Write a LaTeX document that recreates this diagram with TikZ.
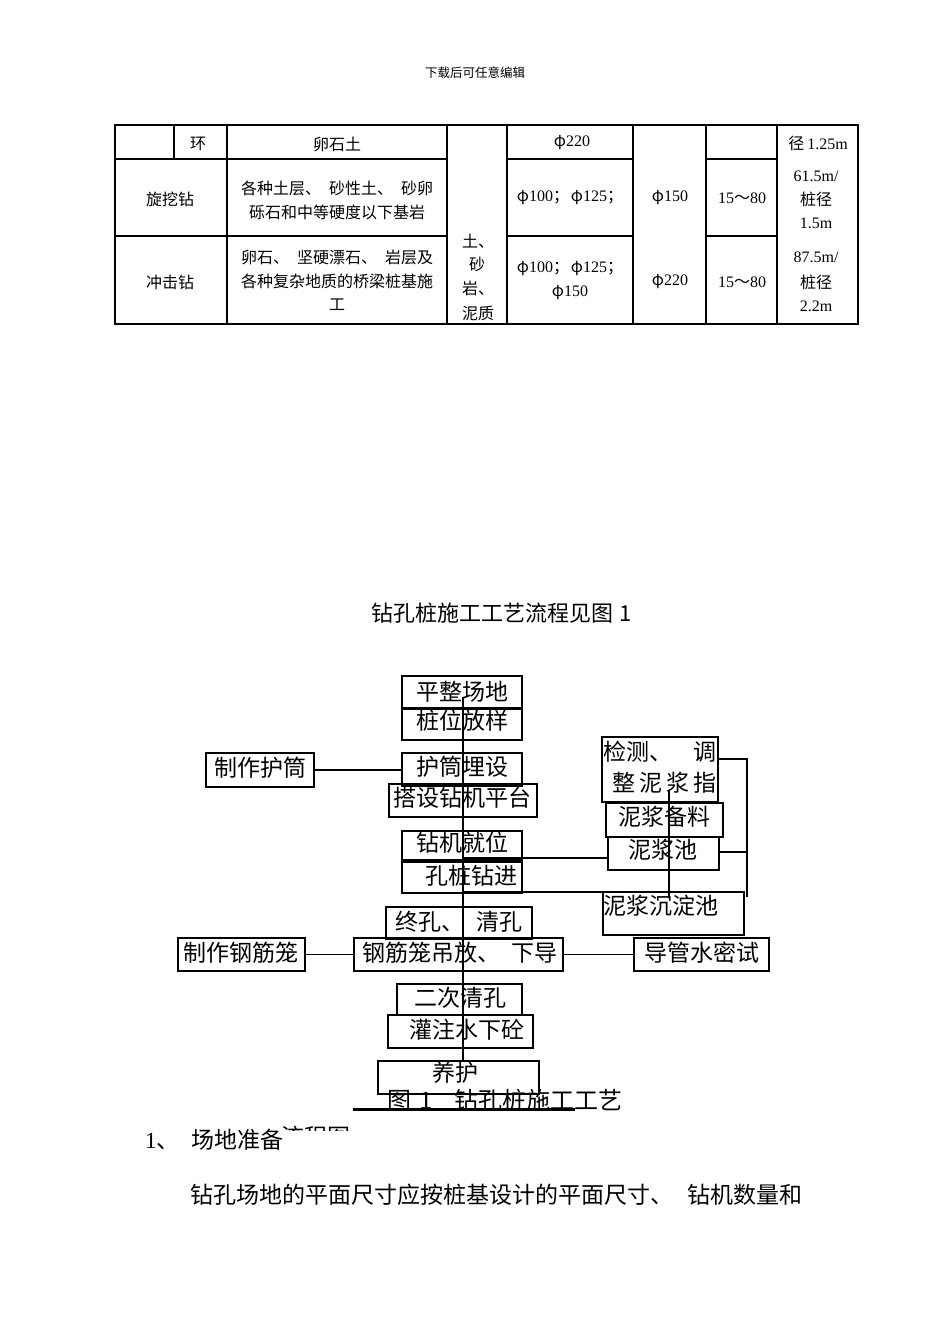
\documentclass[tikz,border=0pt]{standalone}
\usepackage{fontspec}
\setmainfont{Noto Sans CJK SC}
\newfontfamily\ser{Liberation Serif}
\tikzset{
  fbox/.style={draw, line width=1.2pt, inner sep=0pt, rectangle},
  ftext/.style={font=\fontsize{23}{23}\selectfont, inner sep=0pt},
  ttext/.style={font=\fontsize{16}{16}\selectfont, inner sep=0pt},
  conn/.style={line width=1.2pt},
  tline/.style={line width=1.6pt},
}
\newcommand\fb[5]{\node[fbox, minimum width={(#4)-(#2)}, minimum height={(#5)-(#3)}] (#1) at ({((#2)+(#4))/2},{((#3)+(#5))/2}) {};}
\begin{document}
\begin{tikzpicture}[x=1pt,y=-1pt]
\fill[white] (0,0) rectangle (950,1344);
\useasboundingbox (0,0) rectangle (950,1344);

% header
\node[font=\fontsize{12.5}{12.5}\selectfont, inner sep=0pt] (hdr) at (475,73) {下载后可任意编辑};

% table
\draw[tline] (115,125) rectangle (858,324);
\foreach \x in {227,447,507,633,706,777} \draw[tline] (\x,125) -- (\x,324);
\draw[tline] (174,125) -- (174,159);
\foreach \y in {159,236} {
  \draw[tline] (115,\y) -- (447,\y);
  \draw[tline] (507,\y) -- (633,\y);
  \draw[tline] (706,\y) -- (777,\y);
}
\node[ttext] (c1) at (198,144) {环};
\node[ttext] (c2) at (337,144) {卵石土};
\node[ttext] (c3) at (572,143) {φ{\ser 220}};
\node[ttext] (c4) at (818,143) {径\hspace{3pt}{\ser 1.25m}};
\node[ttext] (c5) at (170,199) {旋挖钻};
\node[ttext] (c6) at (337,188) {各种土层、\hspace{8pt}砂性土、\hspace{8pt}砂卵};
\node[ttext] (c7) at (337,212) {砾石和中等硬度以下基岩};
\node[ttext] (c8) at (570,198) {φ{\ser 100}；\hspace{2pt}φ{\ser 125}；};
\node[ttext] (c9) at (670,198) {φ{\ser 150}};
\node[ttext] (c10) at (742,198) {{\ser 15}～{\ser 80}};
\node[ttext] (c11) at (816,176) {{\ser 61.5m/}};
\node[ttext] (c12) at (816,199) {桩径};
\node[ttext] (c13) at (816,223) {{\ser 1.5m}};
\node[ttext] (c14) at (170,282) {冲击钻};
\node[ttext] (c15) at (337,257) {卵石、\hspace{8pt}坚硬漂石、\hspace{8pt}岩层及};
\node[ttext] (c16) at (337,281) {各种复杂地质的桥梁桩基施};
\node[ttext] (c17) at (337,305) {工};
\node[ttext, anchor=west] (c18) at (462,241) {土、};
\node[ttext, anchor=west] (c19) at (469,264) {砂};
\node[ttext, anchor=west] (c20) at (462,288) {岩、};
\node[ttext, anchor=west] (c21) at (462,313) {泥质};
\node[ttext] (c22) at (570,269) {φ{\ser 100}；\hspace{2pt}φ{\ser 125}；};
\node[ttext] (c23) at (570,293) {φ{\ser 150}};
\node[ttext] (c24) at (670,282) {φ{\ser 220}};
\node[ttext] (c25) at (742,282) {{\ser 15}～{\ser 80}};
\node[ttext] (c26) at (816,257) {{\ser 87.5m/}};
\node[ttext] (c27) at (816,282) {桩径};
\node[ttext] (c28) at (816,306) {{\ser 2.2m}};

% title
\node[font=\fontsize{22}{22}\selectfont, inner sep=0pt] (title) at (502,613) {钻孔桩施工工艺流程见图\hspace{6pt}1};

% flowchart boxes
\fb{pz}{402}{676}{522}{708}
\fb{zw}{402}{709}{522}{740}
\fb{hm}{402}{753}{522}{786}
\fb{ds}{389}{784}{537}{817}
\fb{zj}{402}{831}{522}{862}
\fb{kz}{402}{860}{522}{893}
\fb{zh}{206}{753}{314}{787}
\fb{jc}{602}{737}{718}{802}
\fb{bl}{606}{803}{723}{837}
\fb{nc}{608}{837}{719}{870}
\fb{cd}{603}{892}{744}{935}
\fb{zk}{386}{907}{532}{939}
\fb{gj}{354}{938}{563}{971}
\fb{zg}{178}{938}{305}{971}
\fb{dg}{634}{938}{769}{971}
\fb{ec}{397}{984}{522}{1015}
\fb{gz}{388}{1015}{533}{1048}
\fb{yh}{378}{1061}{539}{1094}

% flowchart texts
\node[ftext] (tpz) at (462,692) {平整场地};
\node[ftext] (tzw) at (462,721) {桩位放样};
\node[ftext] (thm) at (462,767) {护筒埋设};
\node[ftext] (tds) at (462,798) {搭设钻机平台};
\node[ftext] (tzj) at (462,843) {钻机就位};
\node[ftext] (tkz) at (471,876) {孔桩钻进};
\node[ftext] (tzh) at (260,768) {制作护筒};
\node[ftext, anchor=west] (tjc1) at (603,752) {检测、};
\node[ftext, anchor=east] (tjc2) at (717,752) {调};
\node[ftext, anchor=east] (tjc3) at (717,783) {整\hspace{4pt}泥\hspace{4pt}浆\hspace{4pt}指};
\node[ftext] (tbl) at (664,817) {泥浆备料};
\node[ftext] (tnc) at (663,850) {泥浆池};
\node[ftext] (tcd) at (661,906) {泥浆沉淀池};
\node[ftext] (tzk) at (459,922) {终孔、\hspace{13pt}清孔};
\node[ftext] (tgj) at (460,953) {钢筋笼吊放、\hspace{12pt}下导};
\node[ftext] (tzg) at (241,953) {制作钢筋笼};
\node[ftext] (tdg) at (702,953) {导管水密试};
\node[ftext] (tec) at (460,998) {二次清孔};
\node[ftext] (tgz) at (467,1030) {灌注水下砼};
\node[ftext] (tyh) at (455,1073) {养护};

% connectors
\coordinate (vtop) at (463,697);
\coordinate (vbot) at (463,1062);
\draw[conn] (vtop) -- (vbot);
\draw[conn] (zh.east) -- (zh.east -| hm.west);
\draw[conn] (zg.east) -- (gj.west);
\draw[conn] (gj.east) -- (dg.west);
\coordinate (j1) at (463,858);
\draw[conn] (j1) -- (j1 -| nc.west);
\coordinate (j2) at (463,892);
\draw[conn] (j2) -- (j2 -| cd.west);
\coordinate (mtop) at (669,790);
\coordinate (mbot) at (669,898);
\draw[conn] (mtop) -- (mbot);
\coordinate (b1) at (718,759);
\coordinate (br) at (747,897);
\coordinate (b2) at (718,852);
\draw[conn] (b1) -| (br);
\draw[conn] (b2) -- (b2 -| br);

% caption
\node[font=\fontsize{24}{24}\selectfont, inner sep=0pt, anchor=west] (cap) at (387,1100) {图\hspace{8pt}1\hspace{22pt}钻孔桩施工工艺};
\coordinate (uA) at (353,1109);
\coordinate (uB) at (575,1109);
\draw[line width=3pt] (uA) -- (uB);
\begin{scope}
  \clip (270,1112) rectangle (360,1130);
  \node[font=\fontsize{23}{23}\selectfont, inner sep=0pt] (cap2) at (316,1137) {流程图};
\end{scope}

% body text
\node[font=\fontsize{23}{23}\selectfont, inner sep=0pt, anchor=west] (h1) at (145,1140) {{\ser 1}、\hspace{12pt}场地准备};
\node[font=\fontsize{23}{23}\selectfont, inner sep=0pt, anchor=west] (p1) at (190,1195) {钻孔场地的平面尺寸应按桩基设计的平面尺寸、\hspace{14pt}钻机数量和};
\end{tikzpicture}
\end{document}
